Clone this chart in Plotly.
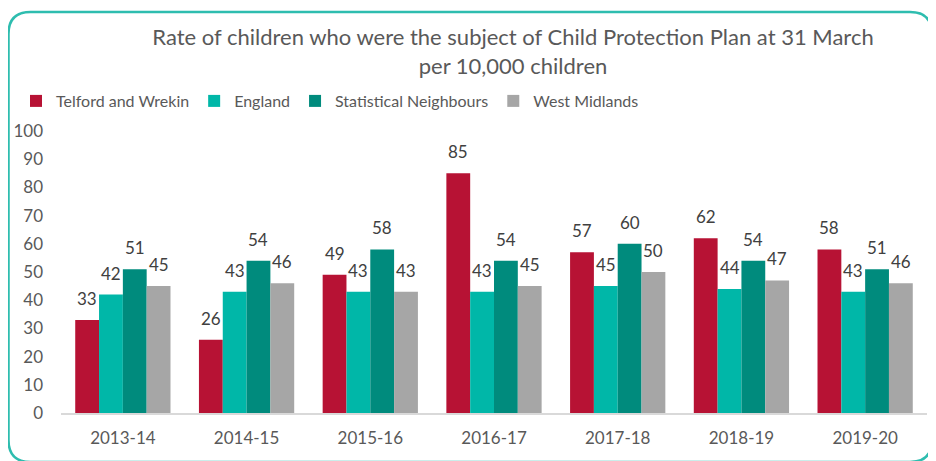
import plotly.graph_objects as go

categories = ["2013-14", "2014-15", "2015-16", "2016-17", "2017-18", "2018-19", "2019-20"]
telford = [33, 26, 49, 85, 57, 62, 58]
england = [42, 43, 43, 43, 45, 44, 43]
stat_neigh = [51, 54, 58, 54, 60, 54, 51]
west_mid = [45, 46, 43, 45, 50, 47, 46]

series = [
    ("Telford and Wrekin", telford, "#B71234"),
    ("England", england, "#00B7A8"),
    ("Statistical Neighbours", stat_neigh, "#008B7D"),
    ("West Midlands", west_mid, "#A6A6A6"),
]

# page is offset by the 8px body margin; work in figure coordinates
OFF = 8
W, H = 936, 461
L, R, T, B = 53, 17, 123, 56
pw, ph = W - L - R, H - T - B
BARGAP = 0.23

def px(x):
    return (x - L) / pw

def py(y):
    return (H - B - y) / ph

FONT = "Lato, Open Sans, sans-serif"

fig = go.Figure()
bar_w = pw / len(categories) * (1 - BARGAP) / len(series)
annotations = []
for i, (name, vals, col) in enumerate(series):
    fig.add_trace(go.Bar(
        x=categories, y=vals, name=name,
        marker=dict(color=col, line=dict(width=0)),
    ))
    shift = (i - (len(series) - 1) / 2) * bar_w
    for c, v in zip(categories, vals):
        annotations.append(dict(
            x=c, y=v, xref="x", yref="y", text=str(v), showarrow=False,
            xanchor="center", yanchor="bottom", xshift=shift, yshift=9,
            font=dict(size=17, color="#404040", family=FONT),
        ))

# rounded border (figure coords)
x0, x1, y0, y1, r = 0.5, 924, 4, 454, 22
path = (
    f"M {px(x0+r)},{py(y0)} L {px(x1-r)},{py(y0)} Q {px(x1)},{py(y0)} {px(x1)},{py(y0+r)} "
    f"L {px(x1)},{py(y1-r)} Q {px(x1)},{py(y1)} {px(x1-r)},{py(y1)} "
    f"L {px(x0+r)},{py(y1)} Q {px(x0)},{py(y1)} {px(x0)},{py(y1-r)} "
    f"L {px(x0)},{py(y0+r)} Q {px(x0)},{py(y0)} {px(x0+r)},{py(y0)} Z"
)

fig.update_layout(
    width=W, height=H,
    margin=dict(l=L, r=R, t=T, b=B, autoexpand=False),
    paper_bgcolor="white", plot_bgcolor="white",
    font=dict(family=FONT, color="#595959"),
    barmode="group", bargap=BARGAP, bargroupgap=0,
    title=dict(
        text="Rate of children who were the subject of Child Protection Plan at 31 March<br>per 10,000 children",
        x=(513 - OFF) / W, xanchor="center", y=1 - 37 / H, yanchor="top",
        font=dict(size=22, color="#595959"),
    ),
    legend=dict(
        orientation="h", x=px(8), xanchor="left", y=py(76), yanchor="top",
        font=dict(size=16, color="#595959"), traceorder="normal",
        itemwidth=30, bgcolor="rgba(0,0,0,0)",
    ),
    xaxis=dict(
        showline=True, linecolor="#D9D9D9", linewidth=2, ticks="",
        tickfont=dict(size=17, color="#595959"), showgrid=False,
        ticklabelstandoff=9, automargin=False,
    ),
    yaxis=dict(
        range=[0, 100], dtick=10, showgrid=False, showline=False, zeroline=False,
        tickfont=dict(size=17, color="#595959"), ticklabelstandoff=17,
        automargin=False,
    ),
    annotations=annotations,
    shapes=[dict(type="path", path=path, xref="paper", yref="paper",
                 line=dict(color="#2EBDAF", width=2.5), layer="above")],
)

fig.write_html("out.html")
